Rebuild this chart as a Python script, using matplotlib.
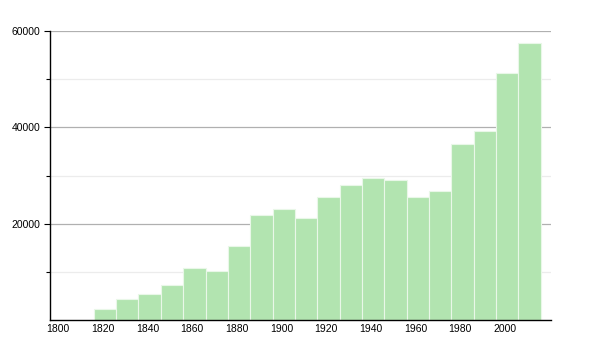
import matplotlib
matplotlib.use('Agg')
import matplotlib.pyplot as plt

plt.rcParams['font.family'] = ['Liberation Sans', 'DejaVu Sans']

### census data ###
years = [1821, 1831, 1841, 1851, 1861, 1871, 1881, 1891, 1901, 1911,
         1921, 1931, 1941, 1951, 1961, 1971, 1981, 1991, 2001, 2011]
population = [2280, 4300, 5460, 7270, 10860, 10170, 15360, 21850, 22980, 21280,
              25500, 27960, 29480, 29060, 25470, 26780, 36620, 39240, 51220, 57440]
xticks = [1800, 1820, 1840, 1860, 1880, 1900, 1920, 1940, 1960, 1980, 2000]
yticks = [20000, 40000, 60000]
yminor = [10000, 30000, 50000]

fig = plt.figure(figsize=(6, 3.5), dpi=100)
ax = fig.add_axes([50/600., 1-320/350., (551-50)/600., (320-31)/350.])

ax.bar(years, population, width=10, color='#b2e4b0', edgecolor='#e9f7e8', linewidth=0.8, zorder=2)

ax.set_xlim(1796.4, 2020.6)
ax.set_ylim(0, 60000)
ax.set_xticks(xticks)
ax.set_xticklabels([str(x) for x in xticks], fontsize=7.5)
ax.set_yticks(yticks)
ax.set_yticklabels([str(y) for y in yticks], fontsize=7.5)
ax.set_yticks(yminor, minor=True)
ax.tick_params(axis='x', length=0, pad=3)
ax.tick_params(axis='y', which='major', length=4, width=0.8, pad=3)
ax.tick_params(axis='y', which='minor', length=3, width=0.8)

ax.grid(axis='y', which='major', color='#b0b0b0', linewidth=0.9, zorder=0)
ax.grid(axis='y', which='minor', color='#ececec', linewidth=0.9, zorder=0)
ax.set_axisbelow(True)

for s in ['top', 'right']:
    ax.spines[s].set_visible(False)
ax.spines['left'].set_linewidth(1.0)
ax.spines['bottom'].set_linewidth(1.0)

fig.savefig('out.png', dpi=100)
